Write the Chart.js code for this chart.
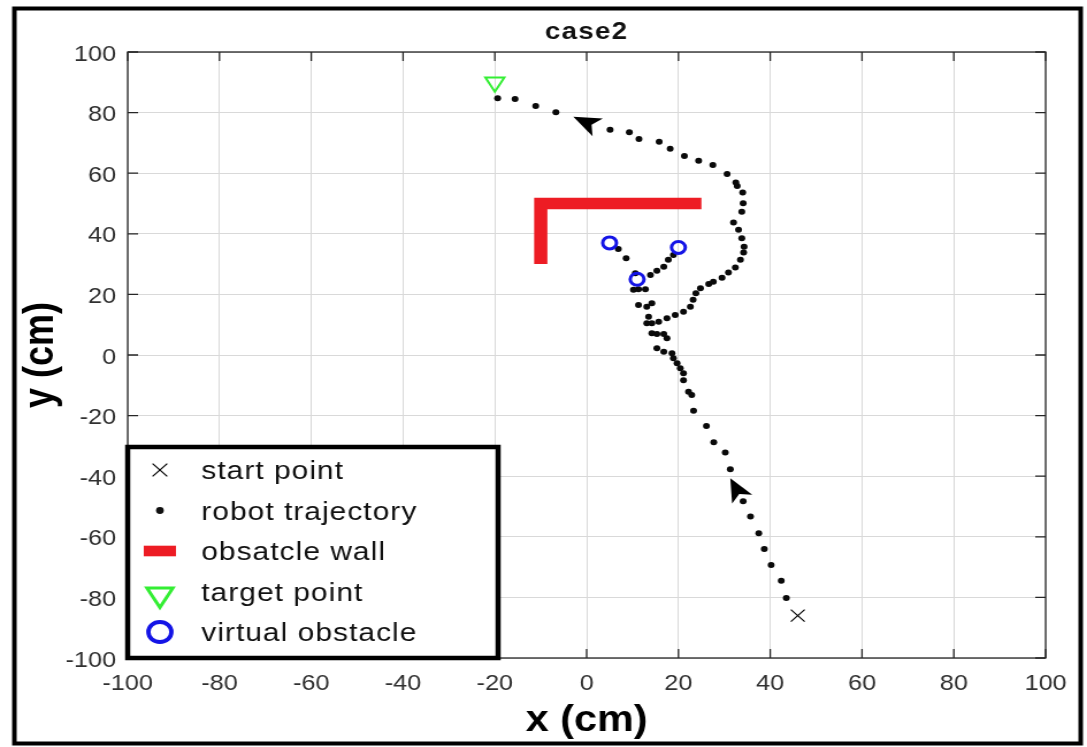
<!DOCTYPE html>
<html>
<head>
<meta charset="utf-8">
<title>case2</title>
<script src="https://cdn.jsdelivr.net/npm/chart.js"></script>
<style>
  html, body { margin: 0; padding: 0; background: #fff; }
  canvas { display: block; }
</style>
</head>
<body>

<!-- drawn at 945 wide, shown at 1087 wide (figure was exported stretched) -->
<canvas id="trajChart" width="945" height="747" style="width:1087px;height:747px"></canvas>

<script>
// positions in cm
const startX = [46];
const startY = [-86];

// robot trajectory, from the start point to the target
const trajX = [43.5, 42.4, 40.2, 38.7, 37.5, 35.7, 34.1, 31.3, 30.2, 27.7, 26.1, 23.3, 22.9, 22.2, 21.1, 21.1,
  20.4, 19.7, 18.9, 18.6, 16.8, 15.3, 17.5, 16.8, 15.3, 14.2, 13.1, 13.5, 14.2, 13.1, 11.3, 14.2, 12.8, 11.3,
  10.2, 10.6, 8.6, 6.9, 13.9, 15.3, 16.8, 17.8, 18.9, 15.7, 17.5, 19.3, 21.1, 22.6, 23.2, 23.8, 24.8, 26.6,
  27.6, 29.5, 30.9, 32.4, 33.5, 34.2, 34.3, 33.8, 33.1, 32.0, 33.8, 34.1, 34.0, 32.8, 32.5, 30.6, 27.5, 24.4,
  21.3, 18.2, 15.8, 11.4, 9.3, 5.1, -6.7, -11.1, -15.6, -19.4];
const trajY = [-80.2, -74.5, -69.3, -64.0, -58.8, -53.3, -48.3, -37.7, -32.2, -28.8, -23.4, -18.4, -13.2, -12.1, -8.3, -6.0,
  -4.4, -2.7, -1.1, 0.6, 1.1, 2.2, 5.5, 6.9, 6.9, 7.2, 10.5, 12.6, 10.5, 15.9, 16.5, 17.1, 21.7, 21.7,
  21.5, 27.0, 31.9, 35.0, 26.4, 27.8, 29.1, 31.4, 33.0, 11.0, 12.1, 13.2, 14.3, 15.9, 18.2, 20.4, 22.0, 23.4,
  24.2, 25.5, 27.2, 28.9, 31.4, 33.8, 35.7, 38.5, 41.3, 43.7, 47.3, 50.1, 53.6, 55.8, 56.9, 59.7, 62.7, 64.1,
  65.7, 68.1, 70.4, 71.3, 73.5, 74.3, 80.1, 82.2, 84.5, 84.7];

// L-shaped wall
const wallX = [-10, -10, 25];
const wallY = [30, 50, 50];

const targetX = [-20];
const targetY = [90];

const virtualX = [5, 20, 11];
const virtualY = [37, 35.5, 25];

// heading arrows on the path: tip and back centre of each head
const arrowTipX = [-2.9, 31.3];
const arrowTipY = [78.6, -40.7];
const arrowBackX = [2.4, 33.9];
const arrowBackY = [75.1, -47.6];

const axisTicks = [-100, -80, -60, -40, -20, 0, 20, 40, 60, 80, 100];

const legendLabels = ['start point', 'robot trajectory', 'obsatcle wall', 'target point', 'virtual obstacle'];

const FONT = '"Liberation Sans", Arial, Helvetica, sans-serif';
Chart.defaults.font.family = FONT;

const pts = (xs, ys) => xs.map((v, i) => ({x: v, y: ys[i]}));

const WALL_RED = '#ed1c24';
const TARGET_GREEN = '#33ee33';
const OBST_BLUE = '#1414e6';

// axes box, inward ticks, arrow heads, title, legend and outer frame
const decorations = {
  id: 'decorations',
  afterDatasetsDraw(chart) {
    const {ctx, chartArea: a, scales: {x, y}} = chart;
    ctx.save();

    ctx.fillStyle = '#000';
    arrowTipX.forEach((tx, i) => {
      const px = x.getPixelForValue(tx), py = y.getPixelForValue(arrowTipY[i]);
      const bx = x.getPixelForValue(arrowBackX[i]), by = y.getPixelForValue(arrowBackY[i]);
      const dx = bx - px, dy = by - py, len = Math.hypot(dx, dy);
      const ux = dx / len, uy = dy / len, hw = len * 0.42;
      ctx.beginPath();
      ctx.moveTo(px, py);
      ctx.lineTo(bx - uy * hw, by + ux * hw);
      ctx.lineTo(px + dx * 0.75, py + dy * 0.75);
      ctx.lineTo(bx + uy * hw, by - ux * hw);
      ctx.closePath();
      ctx.fill();
    });

    ctx.strokeStyle = '#262626';
    ctx.lineWidth = 1.3;
    ctx.strokeRect(a.left, a.top, a.right - a.left, a.bottom - a.top);
    ctx.beginPath();
    axisTicks.forEach(v => {
      const px = x.getPixelForValue(v), py = y.getPixelForValue(v);
      ctx.moveTo(px, a.bottom); ctx.lineTo(px, a.bottom - 9);
      ctx.moveTo(px, a.top); ctx.lineTo(px, a.top + 9);
      ctx.moveTo(a.left, py); ctx.lineTo(a.left + 9, py);
      ctx.moveTo(a.right, py); ctx.lineTo(a.right - 9, py);
    });
    ctx.stroke();
    ctx.restore();
  },
  afterDraw(chart) {
    const {ctx, chartArea: a} = chart;
    ctx.save();

    // title
    ctx.fillStyle = '#111';
    ctx.font = 'bold 24px ' + FONT;
    ctx.letterSpacing = '1.2px';
    ctx.textAlign = 'center';
    ctx.textBaseline = 'alphabetic';
    ctx.fillText('case2', (a.left + a.right) / 2, 38.5);

    // legend box in the lower left corner of the axes
    const lx = a.left, ly = 447, lw = 322, lh = a.bottom - ly;
    ctx.fillStyle = '#fff';
    ctx.fillRect(lx, ly, lw, lh);
    ctx.strokeStyle = '#000';
    ctx.lineWidth = 4.5;
    ctx.strokeRect(lx, ly, lw, lh);

    const mx = lx + 28;
    const rows = legendLabels.map((_, i) => ly + 23 + i * 40.5);

    ctx.strokeStyle = '#000';
    ctx.lineWidth = 1.2;
    Chart.helpers.drawPoint(ctx, {pointStyle: 'crossRot', radius: 9, borderWidth: 1.2}, mx, rows[0]);

    ctx.fillStyle = '#111';
    ctx.beginPath();
    ctx.arc(mx, rows[1], 3.4, 0, Math.PI * 2);
    ctx.fill();

    ctx.fillStyle = WALL_RED;
    ctx.fillRect(mx - 14, rows[2] - 5.3, 28, 10.6);

    ctx.fillStyle = 'rgba(0,0,0,0)';
    ctx.strokeStyle = TARGET_GREEN;
    ctx.lineWidth = 3;
    Chart.helpers.drawPoint(ctx, {pointStyle: 'triangle', radius: 13, rotation: 180, borderWidth: 3}, mx, rows[3] + 3);

    ctx.strokeStyle = OBST_BLUE;
    ctx.lineWidth = 3.8;
    Chart.helpers.drawPoint(ctx, {pointStyle: 'circle', radius: 10, borderWidth: 3.8}, mx, rows[4]);

    ctx.fillStyle = '#111';
    ctx.font = '26px ' + FONT;
    ctx.letterSpacing = '0.9px';
    ctx.textAlign = 'left';
    legendLabels.forEach((t, i) => ctx.fillText(t, lx + 64, rows[i] + 9));

    // outer figure frame
    ctx.letterSpacing = '0px';
    ctx.strokeStyle = '#000';
    ctx.lineWidth = 4;
    ctx.strokeRect(12.5, 8.5, 927, 735);
    ctx.restore();
  }
};

const axisCommon = {
  type: 'linear',
  min: -100,
  max: 100,
  grid: { color: '#d9d9d9', lineWidth: 1, drawTicks: false },
  border: { display: false },
  afterBuildTicks: s => { s.ticks = axisTicks.map(v => ({value: v})); }
};

new Chart(document.getElementById('trajChart'), {
  type: 'scatter',
  data: {
    datasets: [
      {
        label: legendLabels[0],
        data: pts(startX, startY),
        pointStyle: 'crossRot',
        pointRadius: 8.5,
        borderColor: '#000',
        borderWidth: 1.2,
        order: 1
      },
      {
        label: legendLabels[1],
        data: pts(trajX, trajY),
        pointStyle: 'circle',
        pointRadius: 3,
        backgroundColor: '#0a0a0a',
        borderWidth: 0,
        order: 2
      },
      {
        label: legendLabels[2],
        data: pts(wallX, wallY),
        showLine: true,
        borderColor: WALL_RED,
        borderWidth: 11.5,
        borderJoinStyle: 'miter',
        borderCapStyle: 'butt',
        pointRadius: 0,
        order: 3
      },
      {
        label: legendLabels[3],
        data: pts(targetX, targetY),
        pointStyle: 'triangle',
        rotation: 180,
        pointRadius: 9.5,
        borderColor: TARGET_GREEN,
        backgroundColor: 'rgba(0,0,0,0)',
        borderWidth: 2,
        order: 0
      },
      {
        label: legendLabels[4],
        data: pts(virtualX, virtualY),
        pointStyle: 'circle',
        pointRadius: 6,
        borderColor: OBST_BLUE,
        backgroundColor: 'rgba(0,0,0,0)',
        borderWidth: 3,
        order: 0
      }
    ]
  },
  options: {
    responsive: false,
    animation: false,
    events: [],
    layout: { padding: { top: 52, right: 36, left: 0, bottom: 0 } },
    plugins: {
      legend: { display: false },
      tooltip: { enabled: false },
      title: { display: false }
    },
    scales: {
      x: {
        ...axisCommon,
        position: 'bottom',
        afterFit: s => { s.height = 89; },
        ticks: { color: '#303030', font: { size: 22 }, padding: 13, maxRotation: 0, autoSkip: false },
        title: { display: true, text: 'x (cm)', color: '#000', font: { size: 36, weight: 'bold' }, padding: { top: 6 } }
      },
      y: {
        ...axisCommon,
        position: 'left',
        afterFit: s => { s.width = 111; },
        ticks: { color: '#303030', font: { size: 22 }, padding: 10, labelOffset: 2.5, autoSkip: false },
        title: { display: true, text: 'y (cm)', color: '#000', font: { size: 36, weight: 'bold' }, padding: { top: 14 } }
      }
    }
  },
  plugins: [decorations]
});
</script>

</body>
</html>
